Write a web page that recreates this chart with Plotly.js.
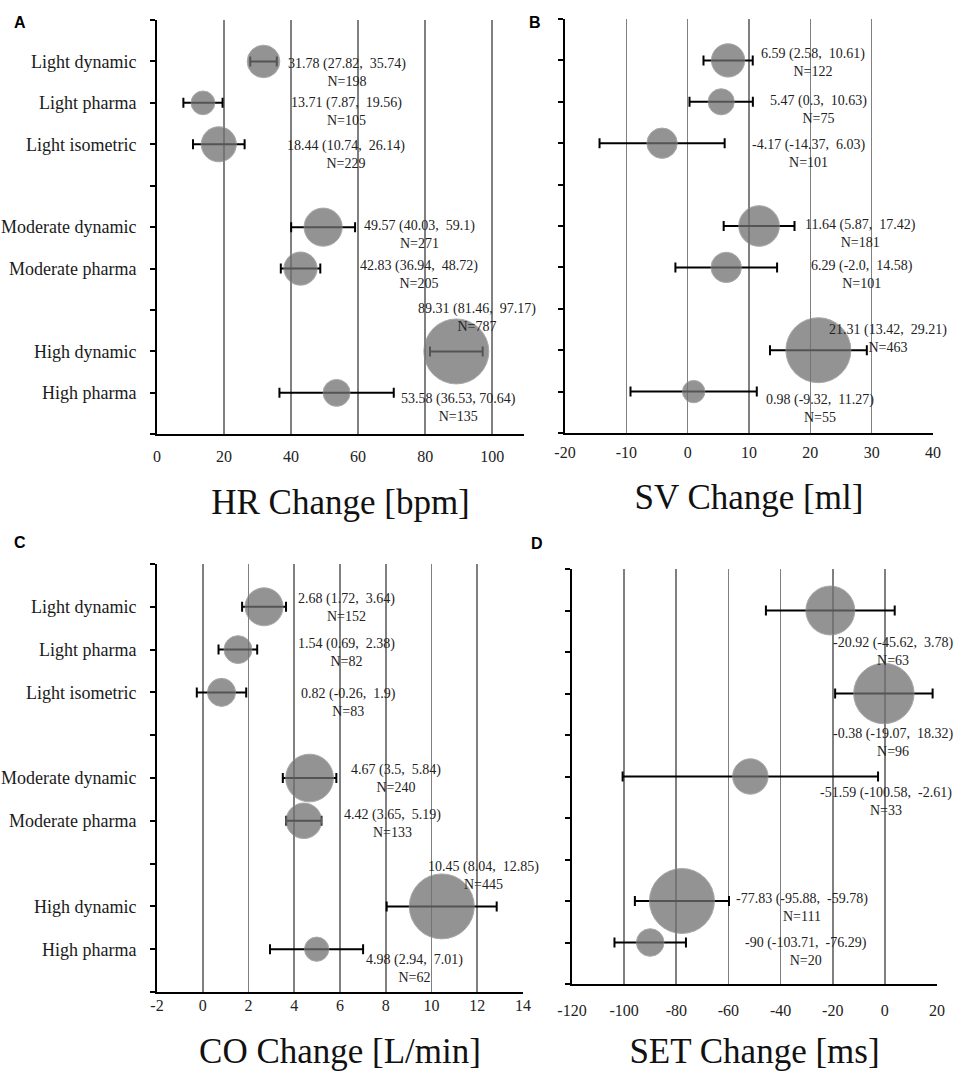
<!DOCTYPE html>
<html><head><meta charset="utf-8">
<script src="https://cdn.plot.ly/plotly-3.0.1.min.js"></script>
<style>html,body{margin:0;padding:0;background:#fff}#chart{width:959px;height:1073px}</style>
</head><body><div id="chart"></div>
<script>
// ---- categories (rows from top to bottom) ----
const categories = ["Light dynamic", "Light pharma", "Light isometric", "Moderate dynamic", "Moderate pharma", "High dynamic", "High pharma"];
const rowPos = [9, 8, 7, 5, 4, 2, 1];

// ---- A: HR change [bpm] ----
const hrCats = categories;
const hrMean = [31.78, 13.71, 18.44, 49.57, 42.83, 89.31, 53.58];
const hrLow  = [27.82, 7.87, 10.74, 40.03, 36.94, 81.46, 36.53];
const hrHigh = [35.74, 19.56, 26.14, 59.1, 48.72, 97.17, 70.64];
const hrN    = [198, 105, 229, 271, 205, 787, 135];
const hrText = ["31.78 (27.82,  35.74)", "13.71 (7.87,  19.56)", "18.44 (10.74,  26.14)", "49.57 (40.03,  59.1)", "42.83 (36.94,  48.72)", "89.31 (81.46,  97.17)", "53.58 (36.53, 70.64)"];
const hrTicks = [0, 20, 40, 60, 80, 100];
const hrTickText = ["0", "20", "40", "60", "80", "100"];

// ---- B: SV change [ml] ----
const svCats = categories;
const svMean = [6.59, 5.47, -4.17, 11.64, 6.29, 21.31, 0.98];
const svLow  = [2.58, 0.3, -14.37, 5.87, -2.0, 13.42, -9.32];
const svHigh = [10.61, 10.63, 6.03, 17.42, 14.58, 29.21, 11.27];
const svN    = [122, 75, 101, 181, 101, 463, 55];
const svText = ["6.59 (2.58,  10.61)", "5.47 (0.3,  10.63)", "-4.17 (-14.37,  6.03)", "11.64 (5.87,  17.42)", "6.29 (-2.0,  14.58)", "21.31 (13.42,  29.21)", "0.98 (-9.32,  11.27)"];
const svTicks = [-20, -10, 0, 10, 20, 30, 40];
const svTickText = ["-20", "-10", "0", "10", "20", "30", "40"];

// ---- C: CO change [L/min] ----
const coCats = categories;
const coMean = [2.68, 1.54, 0.82, 4.67, 4.42, 10.45, 4.98];
const coLow  = [1.72, 0.69, -0.26, 3.5, 3.65, 8.04, 2.94];
const coHigh = [3.64, 2.38, 1.9, 5.84, 5.19, 12.85, 7.01];
const coN    = [152, 82, 83, 240, 133, 445, 62];
const coText = ["2.68 (1.72,  3.64)", "1.54 (0.69,  2.38)", "0.82 (-0.26,  1.9)", "4.67 (3.5,  5.84)", "4.42 (3.65,  5.19)", "10.45 (8.04,  12.85)", "4.98 (2.94,  7.01)"];
const coTicks = [-2, 0, 2, 4, 6, 8, 10, 12, 14];
const coTickText = ["-2", "0", "2", "4", "6", "8", "10", "12", "14"];

// ---- D: SET change [ms] ----
const setCats = ["Light dynamic", "Light isometric", "Moderate dynamic", "High dynamic", "High pharma"];
const setMean = [-20.92, -0.38, -51.59, -77.83, -90];
const setLow  = [-45.62, -19.07, -100.58, -95.88, -103.71];
const setHigh = [3.78, 18.32, -2.61, -59.78, -76.29];
const setN    = [63, 96, 33, 111, 20];
const setText = ["-20.92 (-45.62,  3.78)", "-0.38 (-19.07,  18.32)", "-51.59 (-100.58,  -2.61)", "-77.83 (-95.88,  -59.78)", "-90 (-103.71,  -76.29)"];
const setTicks = [-120, -100, -80, -60, -40, -20, 0, 20];
const setTickText = ["-120", "-100", "-80", "-60", "-40", "-20", "0", "20"];

// ---- layout / style (pixel geometry, kept apart from the data) ----
const W = 959, H = 1073;
const SERIF = "Liberation Serif, Times New Roman, serif";
const panels = [
  {key: "A", title: "HR Change [bpm]",  cats: hrCats,  mean: hrMean,  low: hrLow,  high: hrHigh,  n: hrN,  text: hrText,
   ticks: hrTicks, tickText: hrTickText,
   px: [157, 524], py: [20, 434.3], range: [0, 109.5], showCats: true, tls: 6, stand: 26,
   letter: [20, 22.5],
   off: [[83, 10.8], [144, 8.8], [127, 10.2], [96, 7.3], [118, 5.6], [21, -34], [122, 14.6]]},
  {key: "B", title: "SV Change [ml]",   cats: svCats,  mean: svMean,  low: svLow,  high: svHigh,  n: svN,  text: svText,
   ticks: svTicks, tickText: svTickText,
   px: [565, 933], py: [19, 433], range: [-20, 40], showCats: false, tls: 4, stand: 24,
   letter: [535, 22],
   off: [[85, 2], [97, 8], [146, 10.7], [101, 7.3], [136, 7.3], [70, -12], [126, 17]]},
  {key: "C", title: "CO Change [L/min]", cats: coCats, mean: coMean, low: coLow, high: coHigh, n: coN, text: coText,
   ticks: coTicks, tickText: coTickText,
   px: [157, 523], py: [564, 992], range: [-2, 14], showCats: true, tls: -2, stand: 25,
   letter: [19.5, 542.5],
   off: [[82, 1], [109, 2.6], [127, 10.5], [86, 0.7], [89, 2.5], [42, -30.6], [98, 18.8]]},
  {key: "D", title: "SET Change [ms]",  cats: setCats, mean: setMean, low: setLow, high: setHigh, n: setN, text: setText,
   ticks: setTicks, tickText: setTickText,
   px: [572, 937], py: [569, 984], range: [-120, 20], showCats: false, tls: 11, stand: 20,
   letter: [537, 543],
   off: [[63, 40.8], [9, 49.3], [136, 25.2], [120, 6.8], [156, 8.5]]}
];

const tickVals = [0, 1, 2, 3, 4, 5, 6, 7, 8, 9, 10];
function tickTextFor(show) {
  return tickVals.map(v => {
    if (!show) return "";
    const i = rowPos.indexOf(v);
    return i >= 0 ? categories[i] : "";
  });
}

const traces = [];
const annotations = [];
const layout = {
  width: W, height: H, autosize: false,
  margin: {l: 0, r: 0, t: 0, b: 0},
  paper_bgcolor: "#ffffff", plot_bgcolor: "#ffffff",
  showlegend: false,
  font: {family: SERIF, color: "#222"},
  annotations: annotations
};

panels.forEach((p, k) => {
  const sfx = k === 0 ? "" : String(k + 1);
  const xa = "x" + sfx, ya = "y" + sfx;
  const ys = p.cats.map(c => rowPos[categories.indexOf(c)]);
  const maxN = Math.max.apply(null, p.n);
  traces.push({
    type: "scatter", mode: "markers", xaxis: xa, yaxis: ya,
    x: p.mean, y: ys,
    marker: {size: p.n, sizemode: "area", sizeref: 2 * maxN / (65 * 65),
             color: "rgb(112,112,112)", opacity: 0.75,
             line: {width: 1, color: "rgb(140,140,140)"}},
    error_x: {type: "data", symmetric: false,
              array: p.high.map((h, i) => h - p.mean[i]),
              arrayminus: p.low.map((l, i) => p.mean[i] - l),
              color: "#000", thickness: 2, width: 5},
    hoverinfo: "skip"
  });
  layout["xaxis" + sfx] = {
    anchor: ya, domain: [p.px[0] / W, p.px[1] / W],
    range: p.range, tickmode: "array", tickvals: p.ticks, ticktext: p.tickText,
    showgrid: true, gridcolor: "#808080", gridwidth: 1.6, zeroline: false,
    showline: true, linecolor: "#000", linewidth: 2,
    ticks: "", ticklabelstandoff: p.tls,
    tickfont: {family: SERIF, size: 16, color: "#222"},
    title: {text: p.title, standoff: p.stand, font: {family: SERIF, size: 35, color: "#111"}},
    automargin: false, fixedrange: true
  };
  layout["yaxis" + sfx] = {
    anchor: xa, domain: [1 - p.py[1] / H, 1 - p.py[0] / H],
    range: [0, 10], tickmode: "array", tickvals: tickVals, ticktext: tickTextFor(p.showCats),
    showgrid: false, zeroline: false,
    showline: true, linecolor: "#000", linewidth: 2,
    ticks: "outside", ticklen: 5, tickwidth: 2, tickcolor: "#000",
    ticklabelstandoff: 10,
    tickfont: {family: SERIF, size: 18, color: "#1a1a1a"},
    automargin: false, fixedrange: true
  };
  p.mean.forEach((m, i) => {
    annotations.push({
      xref: xa, yref: ya, x: m, y: ys[i],
      text: p.text[i].replace(/  /g, " \u00a0") + "<br>N=" + p.n[i],
      showarrow: false, xanchor: "center", yanchor: "middle", align: "center",
      xshift: p.off[i][0], yshift: -p.off[i][1],
      font: {family: SERIF, size: 14, color: "#222"}
    });
  });
  annotations.push({
    xref: "paper", yref: "paper", x: p.letter[0] / W, y: 1 - p.letter[1] / H,
    text: "<b>" + p.key + "</b>", showarrow: false, xanchor: "center", yanchor: "middle",
    font: {family: "Liberation Sans, Arial, sans-serif", size: 16, color: "#000"}
  });
});

Plotly.newPlot("chart", traces, layout, {staticPlot: true, displayModeBar: false});
</script>
</body></html>
